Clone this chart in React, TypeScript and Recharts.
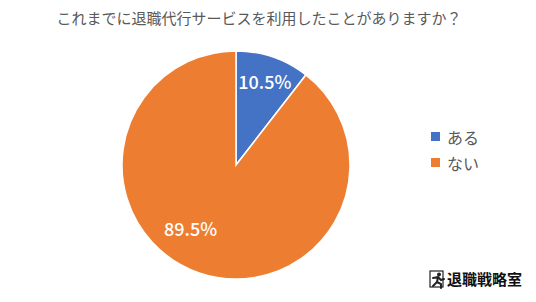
import * as React from "react";
import { PieChart, Pie, Cell } from "recharts";

const TITLE = "これまでに退職代行サービスを利用したことがありますか？";
const categories = ["ある", "ない"];
const values = [10.5, 89.5];
const colors = ["#4472C4", "#ED7D31"];

const data = categories.map((name, i) => ({ name, value: values[i], color: colors[i] }));

const RADIAN = Math.PI / 180;
const FONT = "'Noto Sans CJK JP', 'Noto Sans', sans-serif";

function renderLabel(props: any) {
  const { cx, cy, midAngle, outerRadius, value, index } = props;
  // Excel-like placement: small slice near the rim, large slice nudged toward lower left
  const ratio = index === 0 ? 0.78 : 0.68;
  const angle = index === 0 ? midAngle : midAngle - 17;
  const r = outerRadius * ratio;
  const x = cx + r * Math.cos(-angle * RADIAN);
  const y = cy + r * Math.sin(-angle * RADIAN);
  return (
    <text
      x={x}
      y={y}
      fill="#fff"
      fontSize={18}
      fontWeight={500}
      fontFamily={FONT}
      textAnchor="middle"
      dominantBaseline="central"
    >
      {value.toFixed(1)}%
    </text>
  );
}

function Logo() {
  return (
    <g transform="translate(429,270)">
      <rect x={1} y={1} width={13} height={16} fill="none" stroke="#222" strokeWidth={1.2} />
      <circle cx={10} cy={4.5} r={2} fill="#222" />
      <path d="M4 8 L9 7 L12 10 L15 9 M9 7 L8 12 L4 16 M8 12 L12 14 L12 18" stroke="#222" strokeWidth={2} fill="none" strokeLinecap="round" />
      <text x={18} y={15} fontSize={15} fontWeight="bold" fontFamily="'Noto Sans CJK JP', serif" fill="#111">
        退職戦略室
      </text>
    </g>
  );
}

export default function App() {
  return (
    <div style={{ position: "absolute", left: 0, top: 0, width: 536, height: 302, background: "#fff" }}>
      <PieChart width={536} height={302} margin={{ top: 0, right: 0, bottom: 0, left: 0 }}>
        <text x={259} y={17} textAnchor="middle" dominantBaseline="central" fontSize={15} fill="#595959" fontFamily={FONT}>
          {TITLE}
        </text>
        <Pie
          data={data}
          dataKey="value"
          nameKey="name"
          cx={236}
          cy={165}
          outerRadius={114}
          startAngle={90}
          endAngle={-270}
          stroke="#fff"
          strokeWidth={1.5}
          label={renderLabel}
          labelLine={false}
          isAnimationActive={false}
        >
          {data.map((entry, index) => (
            <Cell key={`cell-${index}`} fill={entry.color} />
          ))}
        </Pie>
        {data.map((entry, i) => (
          <g key={`legend-${i}`}>
            <rect x={431} y={132 + i * 26} width={9} height={9} fill={entry.color} />
            <text x={447} y={137 + i * 26} dominantBaseline="central" fontSize={16} fill="#595959" fontFamily={FONT}>
              {entry.name}
            </text>
          </g>
        ))}
        <Logo />
      </PieChart>
    </div>
  );
}
